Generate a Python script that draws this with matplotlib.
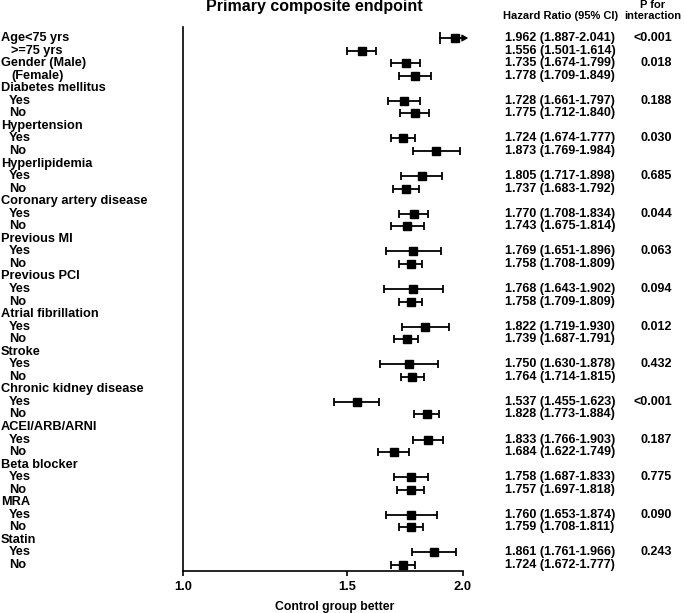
import matplotlib
matplotlib.use("Agg")
import matplotlib.pyplot as plt
import matplotlib.transforms as mtransforms
from matplotlib.ticker import NullLocator, FixedLocator, FixedFormatter

plt.rcParams['font.family'] = ['Liberation Sans', 'DejaVu Sans']
plt.rcParams['font.weight'] = 'bold'

# rows of the forest plot, top to bottom
labels = ["Age<75 yrs", ">=75 yrs", "Gender (Male)", "(Female)",
          "Diabetes mellitus", "Yes", "No",
          "Hypertension", "Yes", "No",
          "Hyperlipidemia", "Yes", "No",
          "Coronary artery disease", "Yes", "No",
          "Previous MI", "Yes", "No",
          "Previous PCI", "Yes", "No",
          "Atrial fibrillation", "Yes", "No",
          "Stroke", "Yes", "No",
          "Chronic kidney disease", "Yes", "No",
          "ACEI/ARB/ARNI", "Yes", "No",
          "Beta blocker", "Yes", "No",
          "MRA", "Yes", "No",
          "Statin", "Yes", "No"]
indent = [0, 2, 0, 2] + [0, 1, 1] * 13

hr = [1.962, 1.556, 1.735, 1.778,
      None, 1.728, 1.775,
      None, 1.724, 1.873,
      None, 1.805, 1.737,
      None, 1.770, 1.743,
      None, 1.769, 1.758,
      None, 1.768, 1.758,
      None, 1.822, 1.739,
      None, 1.750, 1.764,
      None, 1.537, 1.828,
      None, 1.833, 1.684,
      None, 1.758, 1.757,
      None, 1.760, 1.759,
      None, 1.861, 1.724]
lo = [1.887, 1.501, 1.674, 1.709,
      None, 1.661, 1.712,
      None, 1.674, 1.769,
      None, 1.717, 1.683,
      None, 1.708, 1.675,
      None, 1.651, 1.708,
      None, 1.643, 1.709,
      None, 1.719, 1.687,
      None, 1.630, 1.714,
      None, 1.455, 1.773,
      None, 1.766, 1.622,
      None, 1.687, 1.697,
      None, 1.653, 1.708,
      None, 1.761, 1.672]
hi = [2.041, 1.614, 1.799, 1.849,
      None, 1.797, 1.840,
      None, 1.777, 1.984,
      None, 1.898, 1.792,
      None, 1.834, 1.814,
      None, 1.896, 1.809,
      None, 1.902, 1.809,
      None, 1.930, 1.791,
      None, 1.878, 1.815,
      None, 1.623, 1.884,
      None, 1.903, 1.749,
      None, 1.833, 1.818,
      None, 1.874, 1.811,
      None, 1.966, 1.777]
pvals = ["<0.001", "", "0.018", "",
         "", "0.188", "", "", "0.030", "", "", "0.685", "",
         "", "0.044", "", "", "0.063", "", "", "0.094", "",
         "", "0.012", "", "", "0.432", "", "", "<0.001", "",
         "", "0.187", "", "", "0.775", "", "", "0.090", "",
         "", "0.243", ""]

xticks = [1.0, 1.5, 2.0]
xtick_labels = ["1.0", "1.5", "2.0"]
xmax = 2.0

W, H = 685, 613
fig = plt.figure(figsize=(W / 100, H / 100), dpi=100)
ax = fig.add_axes([183 / W, (H - 571) / H, 280 / W, 544 / H])
ax.set_xscale('log')
nrows = len(labels)
ax.set_xlim(1.0, xmax)
ax.set_ylim(-(nrows - 1) - 0.48, 0.88)

for i in range(nrows):
    if hr[i] is None:
        continue
    y = -i
    if hi[i] > xmax:
        # CI runs past the axis: clip at 2.0 and add an arrow head
        ax.plot([lo[i], xmax], [y, y], color='black', lw=1.3, clip_on=False)
        ax.plot([lo[i]], [y], marker='|', ms=8, mew=1.3, color='black')
        ax.annotate("", xy=(2.026, y), xytext=(1.995, y),
                    arrowprops=dict(arrowstyle='-|>,head_length=0.35,head_width=0.2',
                                    color='black', lw=1.0, shrinkA=0, shrinkB=0),
                    annotation_clip=False)
        ax.plot([hr[i]], [y], marker='s', ms=5.5, color='black', clip_on=False, zorder=5)
    else:
        ax.errorbar([hr[i]], [y], xerr=[[hr[i] - lo[i]], [hi[i] - hr[i]]],
                    fmt='s', ms=5.5, color='black', ecolor='black',
                    elinewidth=1.3, capsize=3, capthick=1.3, clip_on=False)

for s in ['top', 'right']:
    ax.spines[s].set_visible(False)
ax.spines['left'].set_linewidth(1.2)
ax.spines['bottom'].set_linewidth(1.2)
ax.set_yticks([])
ax.xaxis.set_minor_locator(NullLocator())
ax.xaxis.set_major_locator(FixedLocator(xticks))
ax.xaxis.set_major_formatter(FixedFormatter(xtick_labels))
ax.tick_params(axis='x', direction='out', length=3.5, width=1.2, pad=4, labelsize=9.3)
for t in ax.get_xticklabels():
    t.set_fontweight('bold')

trans = mtransforms.blended_transform_factory(fig.transFigure, ax.transData)
indent_px = {0: 1, 1: 9, 2: 11}
for i in range(nrows):
    y = -i
    ax.text(indent_px[indent[i]] / W, y, labels[i], transform=trans,
            ha='left', va='center', fontsize=9.2, fontweight='bold')
    if hr[i] is not None:
        ax.text(505 / W, y, "%.3f (%.3f-%.3f)" % (hr[i], lo[i], hi[i]),
                transform=trans, ha='left', va='center', fontsize=9, fontweight='bold')
    if pvals[i]:
        ax.text(672 / W, y, pvals[i], transform=trans,
                ha='right', va='center', fontsize=9, fontweight='bold')

fig.text(314 / W, 1 - 7 / H, "Primary composite endpoint", ha='center', va='center',
         fontsize=11.5, fontweight='bold')
fig.text(503 / W, 1 - 16 / H, "Hazard Ratio (95% CI)", ha='left', va='center',
         fontsize=8, fontweight='bold')
fig.text(653 / W, 1 - 5 / H, "P for", ha='center', va='center',
         fontsize=8, fontweight='bold')
fig.text(653 / W, 1 - 16 / H, "interaction", ha='center', va='center',
         fontsize=8, fontweight='bold')
fig.text(335 / W, 1 - 607 / H, "Control group better", ha='center', va='center',
         fontsize=8.8, fontweight='bold')

fig.savefig("out.png", dpi=100)
